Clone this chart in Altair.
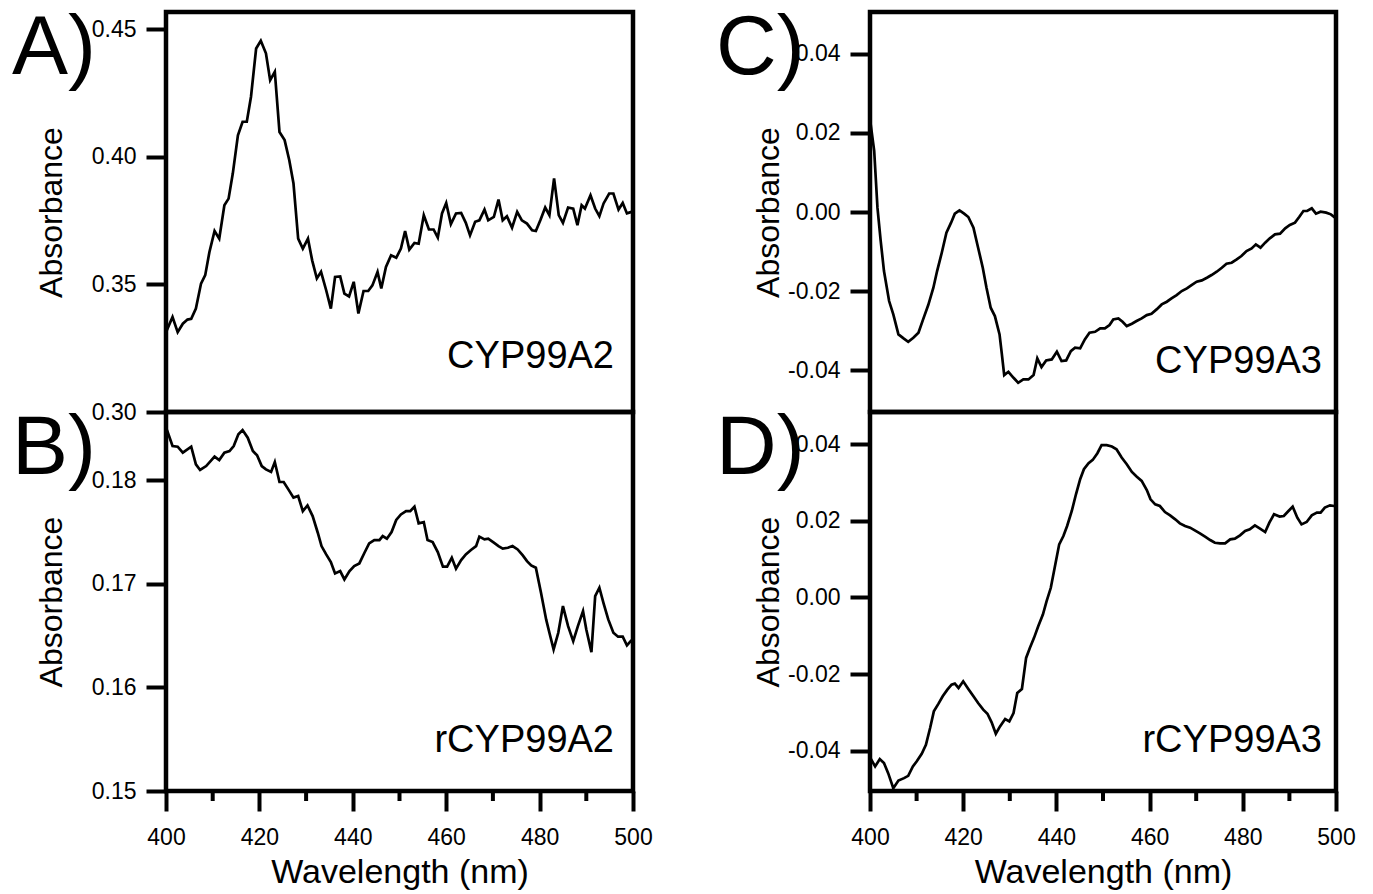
import altair as alt
import pandas as pd

FONT = "Liberation Sans"

# ---------------- data ----------------
X_MAJOR = [400, 420, 440, 460, 480, 500]
X_MINOR = [410, 430, 450, 470, 490]

# Panel A: CYP99A2
A_WL = [400.0, 401.4, 402.5, 403.6, 404.6, 405.4, 406.4, 407.5, 408.4, 409.3,
        410.4, 411.4, 412.5, 413.4, 414.3, 415.4, 416.4, 417.3, 418.2, 419.3,
        420.3, 421.4, 422.3, 423.3, 424.3, 425.4, 426.4, 427.3, 428.3, 429.3,
        430.4, 431.3, 432.3, 433.2, 434.3, 435.3, 436.2, 437.3, 438.2, 439.2,
        440.2, 441.2, 442.3, 443.3, 444.2, 445.3, 446.1, 447.1, 448.2, 449.3,
        450.3, 451.2, 452.1, 453.2, 454.1, 455.2, 456.3, 457.3, 458.2, 459.1,
        460.0, 461.0, 462.1, 463.2, 464.2, 465.1, 466.2, 467.1, 468.2, 469.0,
        470.2, 471.2, 472.1, 473.0, 474.1, 475.2, 476.2, 477.3, 478.4, 479.2,
        480.2, 481.2, 482.1, 483.1, 484.1, 485.0, 486.1, 487.2, 488.1, 489.0,
        489.7, 490.9, 491.9, 492.8, 493.7, 494.9, 495.8, 496.9, 497.8, 498.7,
        499.7]
A_ABS = [0.3313, 0.3372, 0.3313, 0.3346, 0.3362, 0.3365, 0.3405, 0.3503, 0.3536, 0.3627,
         0.3709, 0.3679, 0.3810, 0.3836, 0.3934, 0.4084, 0.4137, 0.4137, 0.4235, 0.4424,
         0.4454, 0.4405, 0.4300, 0.4333, 0.4097, 0.4065, 0.3986, 0.3895, 0.3679, 0.3640,
         0.3679, 0.3594, 0.3523, 0.3549, 0.3477, 0.3405, 0.3529, 0.3531, 0.3464, 0.3453,
         0.3510, 0.3386, 0.3474, 0.3474, 0.3496, 0.3549, 0.3484, 0.3568, 0.3614, 0.3604,
         0.3640, 0.3709, 0.3636, 0.3662, 0.3659, 0.3771, 0.3715, 0.3715, 0.3683, 0.3778,
         0.3819, 0.3736, 0.3778, 0.3780, 0.3741, 0.3692, 0.3745, 0.3751, 0.3793, 0.3751,
         0.3764, 0.3832, 0.3751, 0.3767, 0.3722, 0.3784, 0.3751, 0.3738, 0.3712, 0.3709,
         0.3753, 0.3801, 0.3771, 0.3915, 0.3771, 0.3741, 0.3801, 0.3797, 0.3732, 0.3810,
         0.3797, 0.3849, 0.3797, 0.3767, 0.3817, 0.3856, 0.3856, 0.3793, 0.3819, 0.3778,
         0.3784]

# Panel B: rCYP99A2
B_WL = [400.2, 401.4, 402.5, 403.6, 405.4, 406.4, 407.3, 408.6, 410.4, 411.4,
        412.5, 413.6, 414.5, 415.5, 416.4, 417.5, 418.6, 419.5, 420.5, 421.4,
        422.5, 423.3, 424.3, 425.2, 426.2, 427.3, 428.3, 429.3, 430.3, 431.4,
        432.5, 433.3, 434.3, 435.3, 436.2, 437.3, 438.2, 439.3, 440.3, 441.4,
        442.5, 443.5, 444.6, 445.7, 446.4, 447.3, 448.3, 449.3, 450.3, 451.4,
        452.3, 453.2, 454.1, 455.2, 456.0, 457.1, 458.2, 459.3, 460.2, 461.2,
        462.1, 463.2, 464.2, 465.3, 466.4, 467.1, 468.2, 469.0, 470.2, 471.2,
        472.1, 473.2, 474.2, 475.3, 476.4, 477.3, 478.2, 479.2, 480.3, 481.4,
        482.1, 483.0, 484.0, 485.0, 486.1, 487.2, 488.2, 489.3, 490.0, 491.1,
        491.9, 492.8, 493.7, 494.7, 495.8, 496.8, 497.8, 498.7, 499.7]
B_ABS = [0.18486, 0.18331, 0.18325, 0.18267, 0.18325, 0.18155, 0.18100, 0.18138, 0.18229, 0.18196,
         0.18267, 0.18283, 0.18331, 0.18444, 0.18486, 0.18412, 0.18283, 0.18242, 0.18138, 0.18106,
         0.18081, 0.18177, 0.17984, 0.17984, 0.17913, 0.17833, 0.17849, 0.17703, 0.17758, 0.17655,
         0.17494, 0.17365, 0.17285, 0.17211, 0.17101, 0.17124, 0.17043, 0.17124, 0.17172, 0.17198,
         0.17301, 0.17391, 0.17423, 0.17423, 0.17462, 0.17436, 0.17501, 0.17617, 0.17671, 0.17703,
         0.17703, 0.17746, 0.17585, 0.17597, 0.17423, 0.17404, 0.17307, 0.17166, 0.17166, 0.17253,
         0.17147, 0.17230, 0.17285, 0.17327, 0.17365, 0.17456, 0.17430, 0.17436, 0.17398, 0.17365,
         0.17340, 0.17349, 0.17365, 0.17333, 0.17275, 0.17220, 0.17179, 0.17156, 0.16915, 0.16657,
         0.16528, 0.16367, 0.16528, 0.16786, 0.16592, 0.16447, 0.16592, 0.16737, 0.16560, 0.16341,
         0.16882, 0.16963, 0.16812, 0.16657, 0.16528, 0.16490, 0.16490, 0.16406, 0.16457]

# Panel C: CYP99A3
C_WL = [400.1, 400.9, 401.6, 402.3, 403.0, 404.1, 405.0, 406.1, 407.2, 408.2,
        409.3, 410.4, 411.4, 412.5, 413.6, 414.4, 415.4, 416.4, 417.4, 418.2,
        419.2, 420.2, 421.1, 422.2, 423.2, 424.2, 425.0, 425.9, 426.8, 427.8,
        428.3, 428.8, 429.7, 430.8, 431.8, 432.9, 434.0, 435.1, 435.9, 436.8,
        437.8, 439.0, 440.1, 441.1, 442.1, 443.1, 444.0, 445.1, 446.1, 447.1,
        448.3, 449.4, 450.4, 451.4, 452.2, 453.3, 454.2, 455.1, 456.2, 457.2,
        458.3, 459.4, 460.4, 461.5, 462.6, 463.7, 464.7, 465.8, 466.9, 468.0,
        469.0, 470.1, 471.2, 472.3, 473.3, 474.4, 475.5, 476.5, 477.6, 478.7,
        479.7, 480.8, 481.9, 482.8, 483.8, 484.8, 485.8, 486.9, 488.0, 489.1,
        490.1, 491.2, 492.1, 493.0, 493.8, 494.8, 495.7, 496.7, 497.9, 498.9,
        499.8]
C_ABS = [0.02261, 0.01544, 0.00109, -0.00734, -0.01494, -0.02253, -0.02591, -0.03097, -0.03198, -0.03283,
         -0.03182, -0.03055, -0.02717, -0.02354, -0.01916, -0.01494, -0.01030, -0.00524, -0.00270, -0.00042,
         0.00042, -0.00042, -0.00127, -0.00397, -0.00903, -0.01409, -0.01916, -0.02422, -0.02633, -0.03097,
         -0.03603, -0.04127, -0.04042, -0.04194, -0.04321, -0.04236, -0.04236, -0.04127, -0.03705, -0.03924,
         -0.03755, -0.03730, -0.03536, -0.03772, -0.03755, -0.03519, -0.03435, -0.03451, -0.03224, -0.03055,
         -0.03030, -0.02945, -0.02945, -0.02861, -0.02717, -0.02692, -0.02776, -0.02886, -0.02827, -0.02759,
         -0.02692, -0.02608, -0.02574, -0.02464, -0.02338, -0.02270, -0.02186, -0.02101, -0.02000, -0.01932,
         -0.01848, -0.01764, -0.01730, -0.01662, -0.01595, -0.01511, -0.01409, -0.01308, -0.01283, -0.01198,
         -0.01114, -0.00987, -0.00920, -0.00819, -0.00903, -0.00776, -0.00667, -0.00565, -0.00549, -0.00413,
         -0.00329, -0.00270, -0.00127, 0.00025, 0.00025, 0.00093, -0.00042, 0.00008, -0.00017, -0.00059,
         -0.00143]

# Panel D: rCYP99A3
D_WL = [400.1, 401.1, 402.1, 403.0, 403.9, 405.0, 406.1, 407.3, 408.2, 409.2,
        410.0, 411.1, 412.0, 412.9, 413.7, 414.7, 415.6, 416.6, 417.5, 418.2,
        419.0, 420.0, 421.1, 422.2, 423.2, 424.3, 425.2, 426.1, 427.0, 427.9,
        429.0, 429.9, 430.8, 431.6, 432.6, 433.5, 434.3, 435.2, 436.1, 437.1,
        437.9, 438.8, 439.7, 440.6, 441.5, 442.3, 443.3, 444.2, 445.1, 445.9,
        446.9, 447.8, 448.8, 449.7, 450.8, 451.9, 452.9, 454.0, 455.1, 456.2,
        457.2, 458.3, 459.4, 460.2, 461.2, 462.2, 463.3, 464.4, 465.5, 466.5,
        467.6, 468.7, 469.7, 470.8, 471.9, 473.0, 474.0, 475.1, 476.2, 477.3,
        478.3, 479.4, 480.5, 481.5, 482.6, 483.7, 484.8, 485.7, 486.7, 487.9,
        488.8, 489.8, 490.7, 491.7, 492.6, 493.7, 494.8, 495.9, 496.7, 497.6,
        498.7, 499.6]
D_ABS = [-0.04192, -0.04410, -0.04218, -0.04322, -0.04584, -0.04976, -0.04776, -0.04714, -0.04654, -0.04410,
         -0.04279, -0.04078, -0.03843, -0.03407, -0.02972, -0.02771, -0.02580, -0.02405, -0.02275, -0.02248,
         -0.02361, -0.02188, -0.02387, -0.02580, -0.02754, -0.02928, -0.03033, -0.03259, -0.03556, -0.03364,
         -0.03172, -0.03233, -0.03015, -0.02492, -0.02387, -0.01577, -0.01316, -0.01054, -0.00750, -0.00444,
         -0.00096, 0.00253, 0.00819, 0.01386, 0.01603, 0.01865, 0.02257, 0.02693, 0.03085, 0.03346,
         0.03503, 0.03590, 0.03765, 0.03974, 0.03974, 0.03940, 0.03869, 0.03652, 0.03477, 0.03276,
         0.03155, 0.03041, 0.02805, 0.02562, 0.02431, 0.02387, 0.02230, 0.02144, 0.02039, 0.01935,
         0.01865, 0.01822, 0.01752, 0.01673, 0.01587, 0.01499, 0.01429, 0.01412, 0.01412, 0.01516,
         0.01534, 0.01621, 0.01734, 0.01778, 0.01882, 0.01796, 0.01707, 0.01952, 0.02170, 0.02110,
         0.02127, 0.02257, 0.02371, 0.02083, 0.01908, 0.01969, 0.02144, 0.02214, 0.02214, 0.02345,
         0.02405, 0.02387]

A_TICKS = [0.30, 0.35, 0.40, 0.45]
B_TICKS = [0.15, 0.16, 0.17, 0.18]
CD_TICKS = [-0.04, -0.02, 0.00, 0.02, 0.04]

LETTERS = ["A)", "B)", "C)", "D)"]
NAMES = ["CYP99A2", "rCYP99A2", "CYP99A3", "rCYP99A3"]

SIGNED_EXPR = "(datum.value < -0.0000001 ? '-' : '') + format(abs(datum.value), '.2f')"


def panel(wl, ab, ydom, yticks, h, w, letter, name, bottom, title_x, name_dx, name_y, signed):
    df = pd.DataFrame({"wl": wl, "ab": ab})
    if bottom:
        xaxis = alt.Axis(values=X_MAJOR, format="d", tickSize=20, tickWidth=4, tickColor="black",
                         domain=False, grid=False, labelFont=FONT, labelFontSize=23, labelColor="black",
                         labelPadding=15, labelFlush=False,
                         title="Wavelength (nm)", titleFont=FONT, titleFontSize=34,
                         titleFontWeight="normal", titleColor="black", titlePadding=6)
    else:
        xaxis = None
    xenc = alt.X("wl:Q", scale=alt.Scale(domain=[400, 500], nice=False, zero=False), axis=xaxis)
    yaxis_kw = dict(values=yticks, tickSize=20, tickWidth=4, tickColor="black", domain=False,
                    grid=False, labelFont=FONT, labelFontSize=23, labelColor="black", labelPadding=10,
                    title="Absorbance", titleFont=FONT, titleFontSize=32, titleFontWeight="normal",
                    titleColor="black", titleX=title_x, titleY=h / 2, titleAngle=270,
                    titleBaseline="alphabetic", titleAlign="center")
    if signed:
        yaxis_kw["labelExpr"] = SIGNED_EXPR
    else:
        yaxis_kw["format"] = ".2f"
    yenc = alt.Y("ab:Q", scale=alt.Scale(domain=ydom, nice=False, zero=False),
                 axis=alt.Axis(**yaxis_kw))

    line = alt.Chart(df).mark_line(color="black", strokeWidth=2.7).encode(x=xenc, y=yenc)

    letter_mark = alt.Chart(pd.DataFrame({"t": [letter]})).mark_text(
        align="left", baseline="alphabetic", fontSize=84, font=FONT, color="black"
    ).encode(text="t:N", x=alt.value(-154), y=alt.value(62))

    name_mark = alt.Chart(pd.DataFrame({"t": [name]})).mark_text(
        align="right", baseline="alphabetic", fontSize=38, font=FONT, color="black"
    ).encode(text="t:N", x=alt.value(w + name_dx), y=alt.value(name_y))

    layers = [line, letter_mark, name_mark]
    if bottom:
        minor = alt.Chart(pd.DataFrame({"wl": X_MINOR})).mark_rule(color="black", strokeWidth=4).encode(
            x=xenc, y=alt.value(h), y2=alt.value(h + 10))
        layers.append(minor)
    return alt.layer(*layers).properties(width=w, height=h)


pA = panel(A_WL, A_ABS, [0.30, 0.4567], A_TICKS, 400, 467, LETTERS[0], NAMES[0], False, -105, -19, 356, False)
pB = panel(B_WL, B_ABS, [0.15, 0.1866], B_TICKS, 379, 467, LETTERS[1], NAMES[1], True, -105, -19, 340, False)
pC = panel(C_WL, C_ABS, [-0.0506, 0.0506], CD_TICKS, 400, 466, LETTERS[2], NAMES[2], False, -92, -14, 361, True)
pD = panel(D_WL, D_ABS, [-0.0505, 0.0484], CD_TICKS, 379, 466, LETTERS[3], NAMES[3], True, -92, -14, 340, True)

left = alt.vconcat(pA, pB, spacing=0, bounds="flush")
right = alt.vconcat(pC, pD, spacing=0, bounds="flush")

chart = alt.hconcat(left, right, spacing=58).properties(
    padding={"left": 1, "top": -4, "right": 0, "bottom": 0},
    background="white",
).configure(font=FONT).configure_view(stroke="black", strokeWidth=4.5)

chart.save("out.html", embed_options={"renderer": "svg", "actions": False})
